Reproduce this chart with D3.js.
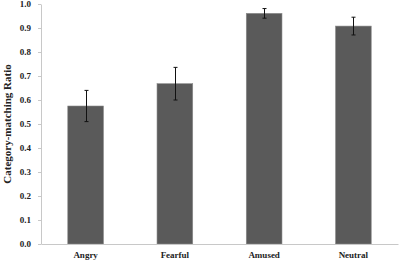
<!DOCTYPE html>
<html>
<head>
<meta charset="utf-8">
<script src="https://cdn.jsdelivr.net/npm/d3@7"></script>
<style>
  body { margin: 0; background: #fff; }
  svg { display: block; }
</style>
</head>
<body>
<svg id="chart" width="400" height="260"></svg>
<script>
const categories = ["Angry", "Fearful", "Amused", "Neutral"];
const values = [0.575, 0.668, 0.961, 0.908];
const errors = [0.065, 0.068, 0.02, 0.037];
const yTicks = [0, 0.1, 0.2, 0.3, 0.4, 0.5, 0.6, 0.7, 0.8, 0.9, 1.0];

const svg = d3.select("#chart");
const margin = { top: 4, right: 2, bottom: 16, left: 41 };
const width = 400, height = 260;

const x = d3.scaleBand()
  .domain(categories)
  .range([margin.left, width - margin.right])
  .paddingInner(0.6)
  .paddingOuter(0.3);

const y = d3.scaleLinear()
  .domain([0, 1])
  .range([height - margin.bottom, margin.top]);

const font = "'Liberation Serif', 'Times New Roman', serif";

// y axis
const yAxis = svg.append("g")
  .attr("transform", `translate(${margin.left},0)`)
  .call(d3.axisLeft(y).tickValues(yTicks).tickFormat(d3.format(".1f")).tickSize(3).tickSizeOuter(0));
yAxis.select(".domain").attr("stroke", "#c8c8c8");
yAxis.selectAll(".tick line").attr("stroke", "#c8c8c8");
yAxis.selectAll("text")
  .attr("font-family", font)
  .attr("font-weight", "bold")
  .attr("font-size", 9)
  .attr("fill", "#222")
  .attr("x", -10);

// bars
svg.append("g")
  .selectAll("rect")
  .data(categories)
  .join("rect")
  .attr("x", d => x(d))
  .attr("width", x.bandwidth())
  .attr("y", (d, i) => y(values[i]))
  .attr("height", (d, i) => y(0) - y(values[i]))
  .attr("fill", "#5a5a5a")
  .attr("stroke", "#8a8a8a")
  .attr("stroke-width", 0.6);

// error bars
const err = svg.append("g").attr("stroke", "#111").attr("stroke-width", 1);
categories.forEach((c, i) => {
  const cx = Math.round(x(c) + x.bandwidth() / 2) + 0.5;
  const top = y(values[i] + errors[i]);
  const bot = y(values[i] - errors[i]);
  err.append("line").attr("x1", cx).attr("x2", cx).attr("y1", top).attr("y2", bot);
  err.append("line").attr("x1", cx - 2).attr("x2", cx + 2).attr("y1", top).attr("y2", top);
  err.append("line").attr("x1", cx - 2).attr("x2", cx + 2).attr("y1", bot).attr("y2", bot);
});

// x axis
const xAxis = svg.append("g")
  .attr("transform", `translate(0,${y(0)})`)
  .call(d3.axisBottom(x).tickSize(0).tickSizeOuter(0));
xAxis.select(".domain").attr("stroke", "#c8c8c8");
xAxis.selectAll("text")
  .attr("font-family", font)
  .attr("font-weight", "bold")
  .attr("font-size", 9)
  .attr("fill", "#222")
  .attr("dy", "1.25em");

// y label
svg.append("text")
  .attr("transform", `translate(11,${y(0.5)}) rotate(-90)`)
  .attr("text-anchor", "middle")
  .attr("font-family", font)
  .attr("font-weight", "bold")
  .attr("font-size", 11)
  .attr("fill", "#222")
  .text("Category-matching Ratio");
</script>
</body>
</html>
